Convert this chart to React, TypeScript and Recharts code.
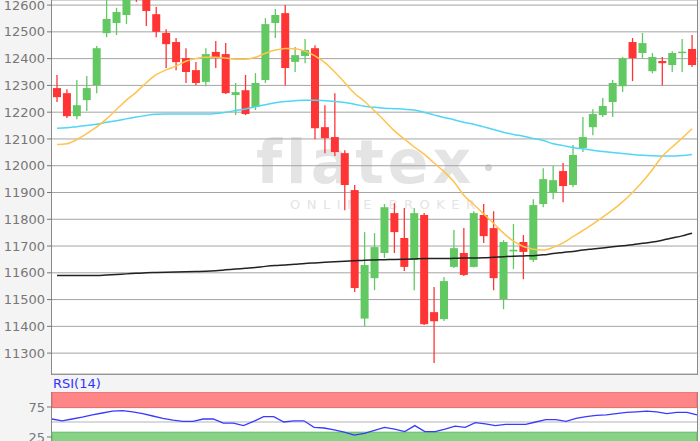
import React from 'react';
import { ComposedChart, Bar, Line, XAxis, YAxis, CartesianGrid, ReferenceArea, ReferenceLine } from 'recharts';

// daily OHLC, 65 sessions
const opens = [
  12290, 12271, 12185, 12245, 12301, 12495, 12533, 12563, 12700, 12640,
  12566, 12496, 12462, 12402, 12357, 12313, 12425, 12417, 12264, 12282,
  12219, 12320, 12533, 12570, 12388, 12410, 12439, 12144, 12107, 12047,
  11909, 11429, 11580, 11674, 11823, 11730, 11648, 11816, 11453, 11427,
  11622, 11674, 11622, 11816, 11767, 11502, 11680, 11715, 11648, 11857,
  11898, 11980, 11928, 12066, 12144, 12189, 12238, 12297, 12462, 12421,
  12353, 12391, 12376, 12421, 12436,
];
const highs = [
  12339, 12286, 12320, 12335, 12447, 12640, 12590, 12680, 12720, 12660,
  12593, 12510, 12477, 12439, 12387, 12439, 12466, 12458, 12309, 12339,
  12346, 12551, 12585, 12600, 12443, 12473, 12450, 12226, 12271, 12058,
  11928, 11752, 11748, 11857, 11860, 11842, 11842, 11823, 11547, 11584,
  11760, 11767, 11830, 11857, 11830, 11722, 11782, 11741, 11875, 11991,
  11999, 12010, 12077, 12182, 12211, 12253, 12320, 12406, 12477, 12496,
  12421, 12406, 12428, 12473, 12488,
];
const lows = [
  12238, 12178, 12174, 12204, 12271, 12480, 12488, 12529, 12612, 12522,
  12480, 12365, 12357, 12309, 12301, 12297, 12365, 12268, 12189, 12189,
  12208, 12309, 12477, 12301, 12350, 12383, 12099, 12047, 12036, 11834,
  11528, 11401, 11535, 11655, 11674, 11607, 11535, 11405, 11263, 11420,
  11618, 11588, 11620, 11711, 11535, 11464, 11614, 11576, 11640, 11845,
  11875, 11864, 11920, 12051, 12114, 12182, 12182, 12275, 12316, 12402,
  12345, 12301, 12350, 12350, 12369,
];
const closes = [
  12256, 12185, 12226, 12290, 12439, 12548, 12574, 12650, 12640, 12578,
  12500, 12454, 12387, 12350, 12309, 12417, 12406, 12271, 12275, 12193,
  12309, 12529, 12563, 12365, 12413, 12432, 12140, 12103, 12051, 11928,
  11543, 11629, 11696, 11845, 11752, 11622, 11823, 11408, 11419, 11569,
  11692, 11592, 11823, 11737, 11580, 11715, 11686, 11678, 11853, 11950,
  11946, 11924, 12040, 12107, 12193, 12223, 12309, 12402, 12402, 12458,
  12406, 12383, 12421, 12426, 12376,
];

// moving averages
const ma20 = [
  12079, 12082, 12098, 12120, 12145, 12175, 12210, 12245, 12275, 12310,
  12340, 12358, 12372, 12390, 12400, 12405, 12405, 12402, 12398, 12398,
  12405, 12420, 12432, 12438, 12437, 12428, 12410, 12385, 12350, 12310,
  12270, 12240, 12205, 12168, 12130, 12100, 12070, 12043, 12010, 11978,
  11940, 11890, 11855, 11820, 11785, 11748, 11718, 11698, 11688, 11685,
  11695, 11712, 11735, 11758, 11782, 11808, 11835, 11865, 11900, 11940,
  11985, 12035, 12070, 12103, 12138,
];
const ma50 = [
  12140, 12142, 12146, 12150, 12155, 12162, 12168, 12175, 12182, 12188,
  12192, 12193, 12193, 12193, 12193, 12193, 12195, 12200, 12206, 12212,
  12220, 12228, 12235, 12240, 12243, 12245, 12245, 12243, 12240, 12236,
  12230, 12222, 12218, 12215, 12213, 12211, 12208, 12200, 12190, 12180,
  12172, 12162, 12155, 12145, 12135, 12125, 12117, 12110, 12102, 12094,
  12082, 12075, 12068, 12063, 12058, 12053, 12049, 12046, 12042, 12039,
  12037, 12036, 12036, 12038, 12042,
];
const ma200 = [
  11590, 11590, 11590, 11590, 11590, 11592, 11594, 11596, 11598, 11600,
  11601, 11602, 11603, 11604, 11605, 11606, 11608, 11611, 11614, 11617,
  11620, 11624, 11627, 11629, 11632, 11635, 11637, 11639, 11641, 11643,
  11645, 11647, 11648, 11649, 11650, 11651, 11652, 11653, 11653, 11653,
  11654, 11655, 11655, 11656, 11658, 11660, 11662, 11663, 11664, 11667,
  11672, 11676, 11680, 11685, 11689, 11693, 11697, 11701, 11705, 11710,
  11715, 11722, 11730, 11738, 11748,
];

const rsi14 = [
  55, 52, 55, 58, 62, 65, 68, 69, 67, 64,
  60, 56, 53, 51, 51, 55, 55, 48, 48, 44,
  51, 59, 59, 50, 52, 52, 41, 40, 37, 33,
  28, 31, 36, 41, 38, 34, 44, 34, 34, 38,
  43, 41, 49, 47, 44, 46, 46, 46, 50, 54,
  54, 51, 56, 59, 61, 62, 64, 66, 67, 68,
  67, 64, 66, 66, 62,
];

const priceTicks = [11300, 11400, 11500, 11600, 11700, 11800, 11900, 12000, 12100, 12200, 12300, 12400, 12500, 12600];
const rsiTicks = [25, 75];

const data = opens.map((o, i) => ({
  idx: i,
  open: o,
  high: highs[i],
  low: lows[i],
  close: closes[i],
  range: [lows[i], highs[i]],
  ma20: ma20[i],
  ma50: ma50[i],
  ma200: ma200[i],
  rsi: rsi14[i],
}));

const GREEN = '#62c962';
const RED = '#ff3535';
const FONT = 'DejaVu Sans';

const Candle = (props: any) => {
  const { x, y, width, height, payload } = props;
  if (!payload || height == null) return null;
  const { open, close, high, low } = payload;
  const k = height / (high - low);
  const yOf = (v: number) => y + (high - v) * k;
  const cx = x + width / 2;
  const color = close >= open ? GREEN : RED;
  const top = yOf(Math.max(open, close));
  const bot = yOf(Math.min(open, close));
  return (
    <g>
      <line x1={cx} x2={cx} y1={y} y2={y + height} stroke={color} strokeWidth={1.3} />
      <rect x={cx - 4} y={top} width={8} height={Math.max(1.5, bot - top)} fill={color} />
    </g>
  );
};

const tickStyle = { fill: '#777', fontSize: 13, fontFamily: FONT };

export default function App() {
  return (
    <div
      style={{
        position: 'fixed',
        left: 0,
        top: 0,
        width: 700,
        height: 441,
        overflow: 'hidden',
        background: '#f4f4f4',
        fontFamily: FONT,
      }}
    >
      {/* plot backgrounds */}
      <div style={{ position: 'absolute', left: 51, top: -1, width: 645, height: 374, background: '#fff', border: '1px solid #8a8a8a' }} />
      <div style={{ position: 'absolute', left: 51, top: 392, width: 645, height: 60, background: '#fff', border: '1px solid #8a8a8a' }} />

      {/* watermark */}
      <div
        style={{
          position: 'absolute',
          left: 256,
          top: 132,
          fontSize: 60,
          lineHeight: '60px',
          fontWeight: 'bold',
          letterSpacing: 4,
          color: '#e4e4e4',
          whiteSpace: 'nowrap',
        }}
      >
        flatex
      </div>
      <div style={{ position: 'absolute', left: 485, top: 164, width: 7, height: 7, borderRadius: 4, background: '#d8d8d8' }} />
      <div
        style={{
          position: 'absolute',
          left: 290,
          top: 197,
          fontSize: 13,
          lineHeight: '15px',
          letterSpacing: 6.5,
          color: '#e4e4e4',
          whiteSpace: 'nowrap',
        }}
      >
        ONLINE BROKER
      </div>

      <div style={{ position: 'absolute', left: 0, top: 0 }}>
        <ComposedChart width={700} height={375} data={data} margin={{ top: 0, right: 3, bottom: 1, left: 0 }} barCategoryGap={0}>
          <CartesianGrid vertical={false} stroke="#a4a4a4" />
          <XAxis dataKey="idx" hide />
          <YAxis
            domain={[11222, 12619]}
            allowDataOverflow
            ticks={priceTicks}
            width={52}
            axisLine={false}
            tickLine={{ stroke: '#777' }}
            tickSize={5}
            tick={tickStyle}
            interval={0}
          />
          <Bar dataKey="range" shape={(p: any) => <Candle {...p} />} isAnimationActive={false} />
          <Line type="monotone" dataKey="ma200" stroke="#222" strokeWidth={1.5} dot={false} isAnimationActive={false} />
          <Line type="monotone" dataKey="ma50" stroke="#4fd6f5" strokeWidth={1.5} dot={false} isAnimationActive={false} />
          <Line type="monotone" dataKey="ma20" stroke="#ffc34f" strokeWidth={1.5} dot={false} isAnimationActive={false} />
        </ComposedChart>
      </div>

      <div style={{ position: 'absolute', left: 53, top: 376, fontSize: 13, lineHeight: '15px', color: '#3333ff' }}>RSI(14)</div>

      <div style={{ position: 'absolute', left: 0, top: 392 }}>
        <ComposedChart width={700} height={61} data={data} margin={{ top: 0, right: 3, bottom: 1, left: 0 }}>
          <XAxis dataKey="idx" hide />
          <YAxis
            domain={[0, 100]}
            allowDataOverflow
            ticks={rsiTicks}
            width={52}
            axisLine={false}
            tickLine={{ stroke: '#777' }}
            tickSize={5}
            tick={tickStyle}
            interval={0}
          />
          <ReferenceArea y1={74} y2={100} fill="#ff8686" fillOpacity={1} stroke="#e06c6c" />
          <ReferenceArea y1={0} y2={33} fill="#86d386" fillOpacity={1} stroke="#62b862" />
          <ReferenceLine y={50} stroke="#b4b4b4" />
          <Line type="linear" dataKey="rsi" stroke="#3a3aff" strokeWidth={1.3} dot={false} isAnimationActive={false} />
        </ComposedChart>
      </div>
    </div>
  );
}
